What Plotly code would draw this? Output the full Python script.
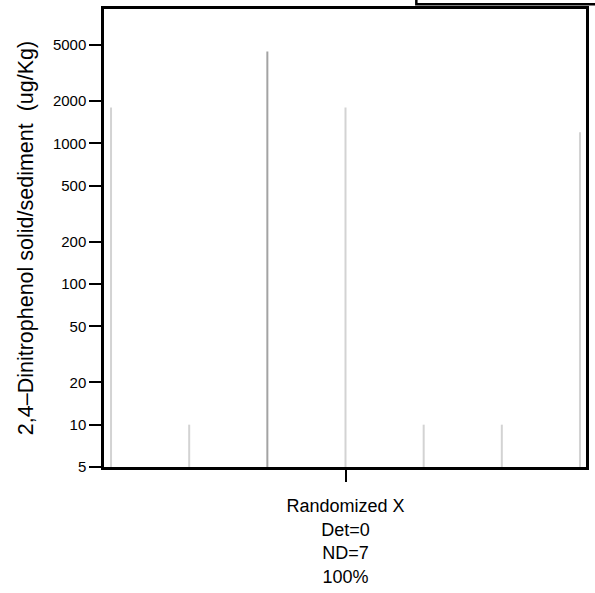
import plotly.graph_objects as go

positions = [0, 1, 2, 3, 4, 5, 6]
values = [1800, 10, 4500, 1800, 10, 10, 1200]
colors = ["#d3d3d3", "#d3d3d3", "#a3a3a3", "#d3d3d3", "#d3d3d3", "#d3d3d3", "#d3d3d3"]
y_floor = 5
ytick_vals = [5, 10, 20, 50, 100, 200, 500, 1000, 2000, 5000]
ytick_text = [str(v) for v in ytick_vals]
xtick_text = "Randomized X<br>Det=0<br>ND=7<br>100%"
y_title = "2,4\u2013Dinitrophenol solid/sediment  (ug/Kg)"

fig = go.Figure()
for x, v, c in zip(positions, values, colors):
    fig.add_trace(go.Scatter(x=[x, x], y=[y_floor, v], mode="lines",
                             line=dict(color=c, width=2), showlegend=False,
                             hoverinfo="skip"))

font = "Liberation Sans, Arial, sans-serif"
fig.update_layout(
    width=595, height=593,
    margin=dict(l=104, r=8, t=6, b=125),
    paper_bgcolor="white", plot_bgcolor="white",
    font=dict(family=font, color="black"),
    showlegend=False,
)
fig.update_xaxes(range=[-0.09, 6.077], showgrid=False, zeroline=False,
                 showline=True, linecolor="black", linewidth=2.5, mirror=True,
                 tickmode="array", tickvals=[3], ticktext=[xtick_text],
                 ticks="outside", ticklen=12, tickwidth=2, tickcolor="black",
                 tickfont=dict(size=18), ticklabelstandoff=9)
fig.update_yaxes(type="log", range=[0.699, 3.956], showgrid=False, zeroline=False,
                 showline=True, linecolor="black", linewidth=2.5, mirror=True,
                 tickmode="array", tickvals=ytick_vals, ticktext=ytick_text,
                 ticks="outside", ticklen=12, tickwidth=2, tickcolor="black",
                 tickfont=dict(size=15), ticklabelstandoff=0,
                 title=dict(text=y_title, font=dict(size=21.5), standoff=14))
fig.add_shape(type="rect", xref="paper", yref="paper",
              x0=0.648, x1=1.05, y0=1.0105, y1=1.2,
              line=dict(color="black", width=2.5), fillcolor="rgba(0,0,0,0)")
fig.write_html("out.html", config={"displayModeBar": False},
               post_script="document.body.style.margin='0';")
